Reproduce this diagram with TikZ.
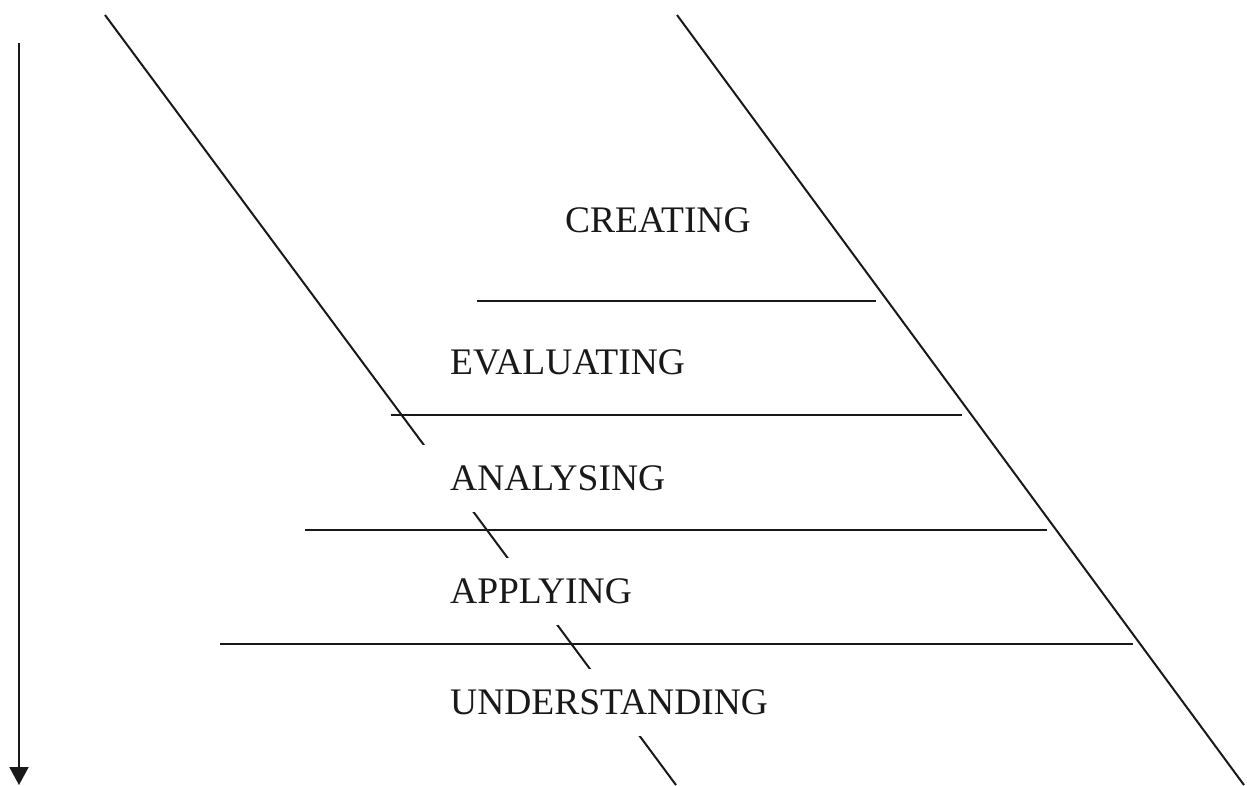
\documentclass[tikz,border=0pt]{standalone}
\usepackage{fontspec}
\setmainfont{Liberation Serif}
\usetikzlibrary{arrows.meta}
\begin{document}
\begin{tikzpicture}[x=1pt,y=-1pt,
  rule/.style={line width=2pt,black!90},
  level/.style={anchor=base west,fill=white,inner xsep=30pt,inner ysep=20pt,
    text height=25pt,text depth=2pt,font=\fontsize{37.5}{40}\selectfont,text=black!90}]
\useasboundingbox (0,0) rectangle (1247,785);
% coordinates
\coordinate (atop) at (19,43);
\coordinate (abot) at (19,785);
\coordinate (ltop) at (105,15);
\coordinate (lbot) at (676,785);
\coordinate (rtop) at (677,15);
\coordinate (rbot) at (1244,785);
\coordinate (h1a) at (477,301); \coordinate (h1b) at (876,301);
\coordinate (h2a) at (391,415); \coordinate (h2b) at (962,415);
\coordinate (h3a) at (305,530); \coordinate (h3b) at (1047,530);
\coordinate (h4a) at (220,644); \coordinate (h4b) at (1133,644);
% arrow and diagonals
\draw[rule,-{Triangle[width=19pt,length=18pt]}] (atop) -- (abot);
\draw[rule] (ltop) -- (lbot);
\draw[rule] (rtop) -- (rbot);
% labels
\node[level] (crea) at (535,232) {CREATING};
\node[level] (eval) at (420,374) {EVALUATING};
\node[level] (anal) at (420,490) {ANALYSING};
\node[level] (appl) at (420,603) {APPLYING};
\node[level] (unde) at (420,714) {UNDERSTANDING};
% horizontal rules
\draw[rule] (h1a) -- (h1b);
\draw[rule] (h2a) -- (h2b);
\draw[rule] (h3a) -- (h3b);
\draw[rule] (h4a) -- (h4b);
\end{tikzpicture}
\end{document}
